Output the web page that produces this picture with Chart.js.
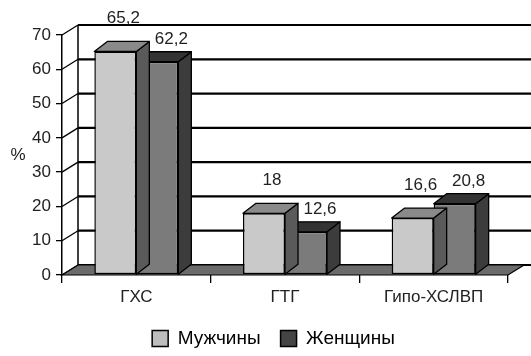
<!DOCTYPE html>
<html>
<head>
<meta charset="utf-8">
<script src="https://cdn.jsdelivr.net/npm/chart.js@4/dist/chart.umd.min.js"></script>
<style>
  html, body { margin: 0; padding: 0; background: #fff; }
  #wrap { width: 531px; height: 356px; }
</style>
</head>
<body>
<div id="wrap"><canvas id="chart" width="531" height="356"></canvas></div>
<script>
// ── Données ──────────────────────────────────────────
const categories = ['ГХС', 'ГТГ', 'Гипо-ХСЛВП'];
const men = [65.2, 18, 16.6];
const women = [62.2, 12.6, 20.8];
const seriesNames = ['Мужчины', 'Женщины'];
const yTicks = [0, 10, 20, 30, 40, 50, 60, 70];

// ── Style 3D ─────────────────────────────────────────
const FONT = 'Arial, "Liberation Sans", sans-serif';
const WALL = { dx: 16, dy: 10 };
const BAR = { dx: 13, dy: 10 };
const faces = [
    { front: '#c9c9c9', top: '#8a8a8a', side: '#5a5a5a', legend: '#bdbdbd', lab: { dx: 8, dy: 33 } },
    { front: '#7b7b7b', top: '#333333', side: '#3c3c3c', legend: '#444444', lab: { dx: 14, dy: 22 } }
];

const poly = (ctx, pts, fill) => {
    ctx.beginPath();
    ctx.moveTo(pts[0][0], pts[0][1]);
    pts.slice(1).forEach(p => ctx.lineTo(p[0], p[1]));
    ctx.closePath();
    if (fill) { ctx.fillStyle = fill; ctx.fill(); }
    ctx.stroke();
};

const box3d = {
    id: 'box3d',
    beforeDatasetsDraw(chart) {
        const { ctx, chartArea: a, scales: { y } } = chart;
        const W = chart.width;
        const y0 = y.getPixelForValue(0);
        ctx.save();
        ctx.strokeStyle = '#000';
        // parois : lignes de fond + diagonales latérales
        yTicks.forEach(v => {
            const py = y.getPixelForValue(v);
            ctx.lineWidth = 2.2;
            ctx.beginPath();
            ctx.moveTo(a.left + WALL.dx, py - WALL.dy);
            ctx.lineTo(W, py - WALL.dy);
            ctx.stroke();
            ctx.lineWidth = 1.3;
            ctx.beginPath();
            ctx.moveTo(a.left, py);
            ctx.lineTo(a.left + WALL.dx, py - WALL.dy);
            ctx.stroke();
        });
        ctx.lineWidth = 1.5;
        ctx.beginPath();
        ctx.moveTo(a.left + WALL.dx, y.getPixelForValue(yTicks[yTicks.length - 1]) - WALL.dy);
        ctx.lineTo(a.left + WALL.dx, y0 - WALL.dy);
        ctx.stroke();
        // sol
        ctx.lineWidth = 1.2;
        poly(ctx, [[a.left, y0], [a.left + WALL.dx, y0 - WALL.dy],
                   [a.right + WALL.dx, y0 - WALL.dy], [a.right, y0]], '#6b6b6b');
        // titre "%"
        ctx.fillStyle = '#222';
        ctx.font = '17px ' + FONT;
        ctx.textAlign = 'center';
        ctx.textBaseline = 'middle';
        ctx.fillText('%', 18, (a.top + a.bottom) / 2);
        ctx.restore();
    },
    afterDatasetDraw(chart, args) {
        const { ctx } = chart;
        const f = faces[args.index];
        ctx.save();
        ctx.strokeStyle = '#000';
        ctx.lineWidth = 1.3;
        ctx.lineJoin = 'round';
        args.meta.data.forEach(bar => {
            const { x, y, base, width } = bar.getProps(['x', 'y', 'base', 'width'], true);
            const l = x - width / 2, r = x + width / 2;
            poly(ctx, [[r, y], [r + BAR.dx, y - BAR.dy], [r + BAR.dx, base - BAR.dy], [r, base]], f.side);
            poly(ctx, [[l, y], [l + BAR.dx, y - BAR.dy], [r + BAR.dx, y - BAR.dy], [r, y]], f.top);
        });
        ctx.restore();
    },
    afterDatasetsDraw(chart) {
        const { ctx } = chart;
        ctx.save();
        ctx.fillStyle = '#222';
        ctx.font = '17px ' + FONT;
        ctx.textAlign = 'center';
        ctx.textBaseline = 'middle';
        chart.data.datasets.forEach((ds, i) => {
            const o = faces[i].lab;
            chart.getDatasetMeta(i).data.forEach((bar, j) => {
                const txt = String(ds.data[j]).replace('.', ',');
                ctx.fillText(txt, bar.x + o.dx, bar.y - o.dy);
            });
        });
        ctx.restore();
    }
};

new Chart(document.getElementById('chart'), {
    type: 'bar',
    data: {
        labels: categories,
        datasets: [
            { label: seriesNames[0], data: men, backgroundColor: faces[0].front },
            { label: seriesNames[1], data: women, backgroundColor: faces[1].front }
        ]
    },
    options: {
        responsive: false,
        animation: false,
        events: [],
        layout: { padding: { left: 16, right: 0, top: 35, bottom: -2 } },
        datasets: {
            bar: {
                categoryPercentage: 0.565,
                barPercentage: 1,
                borderColor: '#000',
                borderWidth: 1.5,
                borderSkipped: false
            }
        },
        plugins: {
            legend: {
                position: 'bottom',
                labels: {
                    color: '#222',
                    font: { family: FONT, size: 19 },
                    boxWidth: 16,
                    boxHeight: 16,
                    padding: 20,
                    generateLabels: (chart) => chart.data.datasets.map((ds, i) => ({
                        text: ds.label,
                        fillStyle: faces[i].legend,
                        strokeStyle: '#000',
                        lineWidth: 1.5,
                        datasetIndex: i
                    }))
                }
            },
            tooltip: { enabled: false }
        },
        scales: {
            x: {
                afterFit: (s) => { s.height = 34; },
                grid: { offset: true, drawOnChartArea: false, tickLength: 8, color: '#000', lineWidth: 1.3 },
                border: { display: false },
                ticks: { color: '#222', font: { family: FONT, size: 17 }, padding: 4, maxRotation: 0 }
            },
            y: {
                min: 0,
                max: 70,
                afterFit: (s) => { s.width = 46; },
                afterBuildTicks: (s) => { s.ticks = yTicks.map(v => ({ value: v })); },
                grid: { drawOnChartArea: false, tickLength: 6, color: '#000', lineWidth: 1.3 },
                border: { display: true, color: '#000', width: 1.5 },
                ticks: { color: '#222', font: { family: FONT, size: 17 }, padding: 5 }
            },
            // axe vide à droite : réserve la place de la perspective
            yR: {
                type: 'linear',
                position: 'right',
                display: true,
                afterFit: (s) => { s.width = 23; },
                grid: { display: false },
                border: { display: false },
                ticks: { display: false }
            }
        }
    },
    plugins: [box3d]
});
</script>
</body>
</html>
